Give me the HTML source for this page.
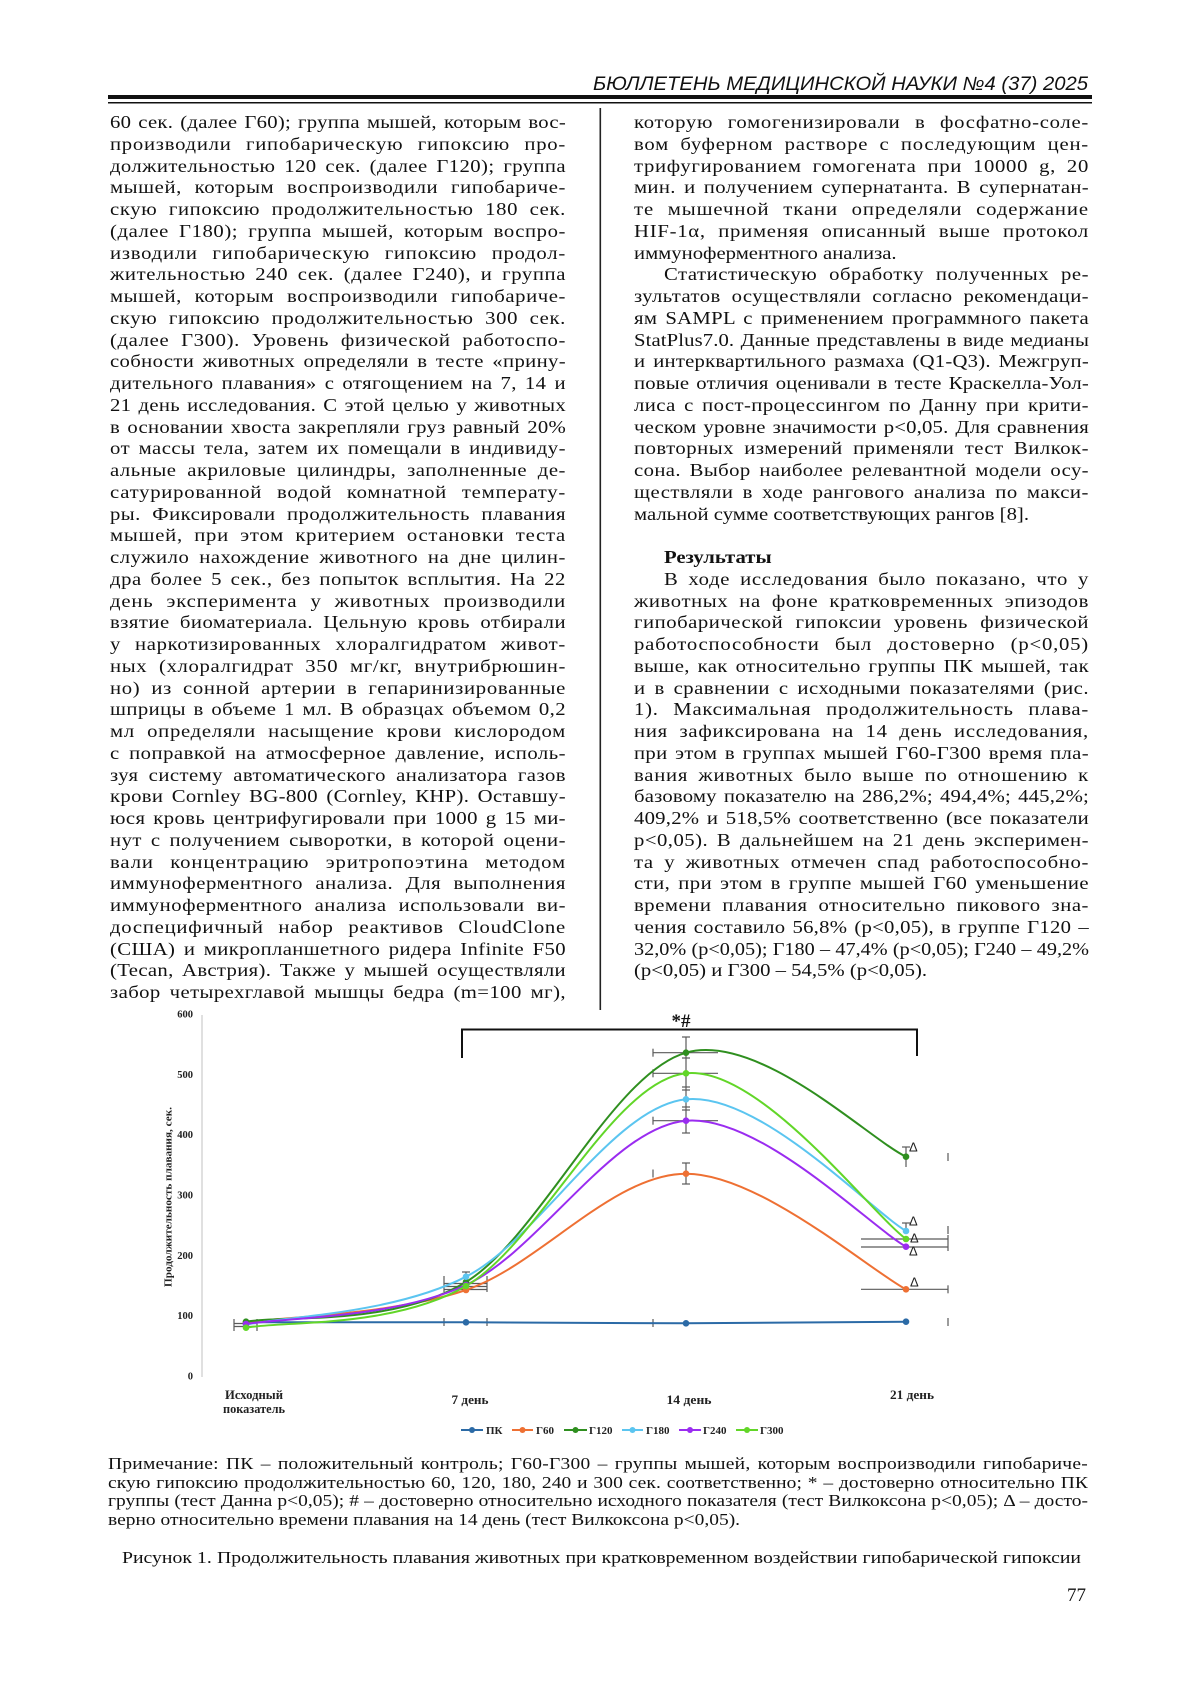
<!DOCTYPE html>
<html lang="ru">
<head>
<meta charset="utf-8">
<style>
  html,body{margin:0;padding:0;background:#fff;}
  #page{position:relative;width:1200px;height:1697px;overflow:hidden;background:#fff;color:#111;}
  .col{position:absolute;top:112px;font-family:"Liberation Serif","DejaVu Serif",serif;font-size:18px;line-height:21.75px;transform:scaleX(1.07);transform-origin:0 0;}
  .col div{height:21.75px;text-align:justify;text-align-last:justify;}
  .col div.l{text-align:left;text-align-last:left;}
  .col div.i{padding-left:28px;}
  .col div.b{font-weight:bold;}
  #left{left:110px;width:426px;}
  #right{left:634px;width:425px;}
  #cap{position:absolute;left:108px;top:1455px;width:916px;font-family:"Liberation Serif",serif;font-size:16.5px;line-height:18.7px;transform:scaleX(1.07);transform-origin:0 0;}
  #cap div{height:18.7px;text-align:justify;text-align-last:justify;}
  #cap div.l{text-align:left;text-align-last:left;}
  #title{position:absolute;left:122px;top:1548px;width:896px;font-family:"Liberation Serif",serif;font-size:17px;line-height:20px;transform:scaleX(1.07);transform-origin:0 0;}
  #title div{height:20px;text-align:justify;text-align-last:justify;}
  #pnum{position:absolute;left:1000px;width:86px;top:1585px;font-family:"Liberation Serif",serif;font-size:19px;line-height:22px;text-align:right;}
  svg{position:absolute;left:0;top:0;}
</style>
</head>
<body>
<div id="page">

<svg width="1200" height="1697" viewBox="0 0 1200 1697" xmlns="http://www.w3.org/2000/svg">
  <!-- header -->
  <text x="593" y="90" textLength="495" lengthAdjust="spacingAndGlyphs" font-family="Liberation Sans, sans-serif" font-style="italic" font-size="19" fill="#111">БЮЛЛЕТЕНЬ МЕДИЦИНСКОЙ НАУКИ №4 (37) 2025</text>
  <rect x="108" y="95" width="984" height="4" fill="#111"/>
  <rect x="108" y="102" width="984" height="1.5" fill="#111"/>
  <!-- column divider -->
  <rect x="599.5" y="108" width="1.6" height="902" fill="#222"/>

  <!-- chart: y axis -->
  <line x1="202" y1="1015" x2="202" y2="1377" stroke="#d6d6d6" stroke-width="1.5"/>
  <g font-family="Liberation Serif, serif" font-weight="bold" font-size="10.5" fill="#222" text-anchor="end">
    <text x="193" y="1017.5">600</text>
    <text x="193" y="1077.8">500</text>
    <text x="193" y="1138.2">400</text>
    <text x="193" y="1198.5">300</text>
    <text x="193" y="1258.8">200</text>
    <text x="193" y="1319.2">100</text>
    <text x="193" y="1379.5">0</text>
  </g>
  <text transform="translate(171.5,1197) rotate(-90)" x="0" y="0" text-anchor="middle" textLength="180" lengthAdjust="spacingAndGlyphs" font-family="Liberation Serif, serif" font-weight="bold" font-size="11" fill="#222">Продолжительность плавания, сек.</text>

  <!-- x category labels -->
  <g font-family="Liberation Serif, serif" font-weight="bold" font-size="12.5" fill="#222" text-anchor="middle">
    <text x="254" y="1399" textLength="58" lengthAdjust="spacingAndGlyphs">Исходный</text>
    <text x="254" y="1413" textLength="62" lengthAdjust="spacingAndGlyphs">показатель</text>
    <text x="470" y="1404" textLength="37" lengthAdjust="spacingAndGlyphs">7 день</text>
    <text x="689" y="1404" textLength="45" lengthAdjust="spacingAndGlyphs">14 день</text>
    <text x="912" y="1399" textLength="44" lengthAdjust="spacingAndGlyphs">21 день</text>
  </g>

  <!-- bracket and significance -->
  <path d="M462,1058 L462,1029.5 L917,1029.5 L917,1056" fill="none" stroke="#111" stroke-width="2"/>
  <text x="681" y="1027" text-anchor="middle" font-family="Liberation Serif, serif" font-weight="bold" font-size="19" fill="#111">*#</text>

  <!-- error bars -->
  <g stroke="#5a5a5a" stroke-width="1.2" fill="none">
    <line x1="234" y1="1323.5" x2="257" y2="1323.5"/>
    <line x1="234" y1="1326.5" x2="257" y2="1326.5"/>
    <line x1="234" y1="1319" x2="234" y2="1331"/>
    <line x1="257" y1="1319" x2="257" y2="1331"/>
    <line x1="444" y1="1283.5" x2="487" y2="1283.5"/>
    <line x1="444" y1="1286.5" x2="487" y2="1286.5"/>
    <line x1="444" y1="1289.5" x2="487" y2="1289.5"/>
    <line x1="444" y1="1276" x2="444" y2="1292"/>
    <line x1="487" y1="1276" x2="487" y2="1292"/>
    <line x1="466" y1="1272" x2="466" y2="1292"/>
    <line x1="462" y1="1272" x2="470" y2="1272"/>
    <line x1="444" y1="1318" x2="444" y2="1326"/>
    <line x1="487" y1="1318" x2="487" y2="1326"/>
    <line x1="686" y1="1037" x2="686" y2="1133"/>
    <line x1="682" y1="1037" x2="690" y2="1037"/>
    <line x1="682" y1="1058" x2="690" y2="1058"/>
    <line x1="682" y1="1087" x2="690" y2="1087"/>
    <line x1="682" y1="1090" x2="690" y2="1090"/>
    <line x1="682" y1="1107" x2="690" y2="1107"/>
    <line x1="682" y1="1110" x2="690" y2="1110"/>
    <line x1="682" y1="1133" x2="690" y2="1133"/>
    <line x1="653" y1="1052.7" x2="718" y2="1052.7"/>
    <line x1="653" y1="1073.3" x2="718" y2="1073.3"/>
    <line x1="653" y1="1120.7" x2="718" y2="1120.7"/>
    <line x1="653" y1="1048.7" x2="653" y2="1056.7"/>
    <line x1="653" y1="1069.3" x2="653" y2="1077.3"/>
    <line x1="653" y1="1116.7" x2="653" y2="1124.7"/>
    <line x1="686" y1="1163" x2="686" y2="1184"/>
    <line x1="682" y1="1163" x2="690" y2="1163"/>
    <line x1="682" y1="1184" x2="690" y2="1184"/>
    <line x1="653" y1="1169.5" x2="653" y2="1177.5"/>
    <line x1="653" y1="1319" x2="653" y2="1327"/>
    <line x1="906" y1="1147" x2="906" y2="1167"/>
    <line x1="902" y1="1147" x2="910" y2="1147"/>
    <line x1="906" y1="1223" x2="906" y2="1233"/>
    <line x1="902" y1="1223" x2="910" y2="1223"/>
    <line x1="861" y1="1239" x2="948" y2="1239"/>
    <line x1="861" y1="1247" x2="948" y2="1247"/>
    <line x1="861" y1="1289.3" x2="948" y2="1289.3"/>
    <line x1="948" y1="1153" x2="948" y2="1161"/>
    <line x1="948" y1="1226" x2="948" y2="1234"/>
    <line x1="948" y1="1235" x2="948" y2="1243"/>
    <line x1="948" y1="1243" x2="948" y2="1251"/>
    <line x1="948" y1="1285.3" x2="948" y2="1293.3"/>
    <line x1="948" y1="1318" x2="948" y2="1326"/>
  </g>

  <!-- series -->
  <g fill="none" stroke-width="2" stroke-linecap="round" stroke-linejoin="round">
    <path stroke="#2b6aa6" d="M246,1322.3 L466,1322.3 L686,1323.3 L906,1321.7"/>
    <path stroke="#ee7033" d="M246,1322.3 C282.67,1316.9 392.67,1314.8 466,1290 C539.33,1265.2 612.67,1173.8 686,1173.7 C759.33,1173.6 869.33,1270 906,1289.3"/>
    <path stroke="#2f8f1f" d="M246,1321.7 C282.67,1315.1 392.67,1326.8 466,1282 C539.33,1237.2 612.67,1073.6 686,1052.7 C759.33,1031.8 869.33,1139.4 906,1156.7"/>
    <path stroke="#5bc5f0" d="M246,1324.7 C282.67,1316.7 392.67,1314.3 466,1276.7 C539.33,1239.1 612.67,1106.9 686,1099.3 C759.33,1091.7 869.33,1209.1 906,1231"/>
    <path stroke="#9a2cf0" d="M246,1324 C282.67,1317.5 392.67,1318.9 466,1285 C539.33,1251.1 612.67,1127.1 686,1120.7 C759.33,1114.3 869.33,1225.7 906,1246.7"/>
    <path stroke="#62d628" d="M246,1327.7 C282.67,1320.75 392.67,1328.4 466,1286 C539.33,1243.6 612.67,1081.1 686,1073.3 C759.33,1065.5 869.33,1211.4 906,1239"/>
  </g>
  <g>
    <g fill="#2b6aa6"><circle cx="246" cy="1322.3" r="3.3"/><circle cx="466" cy="1322.3" r="3.3"/><circle cx="686" cy="1323.3" r="3.3"/><circle cx="906" cy="1321.7" r="3.3"/></g>
    <g fill="#ee7033"><circle cx="246" cy="1322.3" r="3.3"/><circle cx="466" cy="1290" r="3.3"/><circle cx="686" cy="1173.7" r="3.3"/><circle cx="906" cy="1289.3" r="3.3"/></g>
    <g fill="#2f8f1f"><circle cx="246" cy="1321.7" r="3.3"/><circle cx="466" cy="1282" r="3.3"/><circle cx="686" cy="1052.7" r="3.3"/><circle cx="906" cy="1156.7" r="3.3"/></g>
    <g fill="#5bc5f0"><circle cx="246" cy="1324.7" r="3.3"/><circle cx="466" cy="1276.7" r="3.3"/><circle cx="686" cy="1099.3" r="3.3"/><circle cx="906" cy="1231" r="3.3"/></g>
    <g fill="#9a2cf0"><circle cx="246" cy="1324" r="3.3"/><circle cx="466" cy="1285" r="3.3"/><circle cx="686" cy="1120.7" r="3.3"/><circle cx="906" cy="1246.7" r="3.3"/></g>
    <g fill="#62d628"><circle cx="246" cy="1327.7" r="3.3"/><circle cx="466" cy="1286" r="3.3"/><circle cx="686" cy="1073.3" r="3.3"/><circle cx="906" cy="1239" r="3.3"/></g>
  </g>

  <g font-family="Liberation Sans, sans-serif" font-size="13" fill="#222">
    <text x="909" y="1151.5">Δ</text>
    <text x="909" y="1225.5">Δ</text>
    <text x="910" y="1242.5">Δ</text>
    <text x="909" y="1255.5">Δ</text>
    <text x="910" y="1286.5">Δ</text>
  </g>

  <!-- legend -->
  <g stroke-width="2">
    <line x1="461" y1="1430" x2="483" y2="1430" stroke="#2b6aa6"/>
    <line x1="512" y1="1430" x2="533" y2="1430" stroke="#ee7033"/>
    <line x1="564" y1="1430" x2="587" y2="1430" stroke="#2f8f1f"/>
    <line x1="622" y1="1430" x2="643" y2="1430" stroke="#5bc5f0"/>
    <line x1="679" y1="1430" x2="701" y2="1430" stroke="#9a2cf0"/>
    <line x1="736" y1="1430" x2="758" y2="1430" stroke="#62d628"/>
  </g>
  <circle cx="472" cy="1430" r="3" fill="#2b6aa6"/>
  <circle cx="522.5" cy="1430" r="3" fill="#ee7033"/>
  <circle cx="575.5" cy="1430" r="3" fill="#2f8f1f"/>
  <circle cx="632.5" cy="1430" r="3" fill="#5bc5f0"/>
  <circle cx="690" cy="1430" r="3" fill="#9a2cf0"/>
  <circle cx="747" cy="1430" r="3" fill="#62d628"/>
  <g font-family="Liberation Serif, serif" font-weight="bold" font-size="11" fill="#222">
    <text x="486" y="1434">ПК</text>
    <text x="536" y="1434">Г60</text>
    <text x="589" y="1434">Г120</text>
    <text x="646" y="1434">Г180</text>
    <text x="703" y="1434">Г240</text>
    <text x="760" y="1434">Г300</text>
  </g>
</svg>

<div class="col" id="left">
<div>60 сек. (далее Г60); группа мышей, которым вос-</div>
<div>производили гипобарическую гипоксию про-</div>
<div>должительностью 120 сек. (далее Г120); группа</div>
<div>мышей, которым воспроизводили гипобариче-</div>
<div>скую гипоксию продолжительностью 180 сек.</div>
<div>(далее Г180); группа мышей, которым воспро-</div>
<div>изводили гипобарическую гипоксию продол-</div>
<div>жительностью 240 сек. (далее Г240), и группа</div>
<div>мышей, которым воспроизводили гипобариче-</div>
<div>скую гипоксию продолжительностью 300 сек.</div>
<div>(далее Г300). Уровень физической работоспо-</div>
<div>собности животных определяли в тесте «прину-</div>
<div>дительного плавания» с отягощением на 7, 14 и</div>
<div>21 день исследования. С этой целью у животных</div>
<div>в основании хвоста закрепляли груз равный 20%</div>
<div>от массы тела, затем их помещали в индивиду-</div>
<div>альные акриловые цилиндры, заполненные де-</div>
<div>сатурированной водой комнатной температу-</div>
<div>ры. Фиксировали продолжительность плавания</div>
<div>мышей, при этом критерием остановки теста</div>
<div>служило нахождение животного на дне цилин-</div>
<div>дра более 5 сек., без попыток всплытия. На 22</div>
<div>день эксперимента у животных производили</div>
<div>взятие биоматериала. Цельную кровь отбирали</div>
<div>у наркотизированных хлоралгидратом живот-</div>
<div>ных (хлоралгидрат 350 мг/кг, внутрибрюшин-</div>
<div>но) из сонной артерии в гепаринизированные</div>
<div>шприцы в объеме 1 мл. В образцах объемом 0,2</div>
<div>мл определяли насыщение крови кислородом</div>
<div>с поправкой на атмосферное давление, исполь-</div>
<div>зуя систему автоматического анализатора газов</div>
<div>крови Cornley BG-800 (Cornley, КНР). Оставшу-</div>
<div>юся кровь центрифугировали при 1000 g 15 ми-</div>
<div>нут с получением сыворотки, в которой оцени-</div>
<div>вали концентрацию эритропоэтина методом</div>
<div>иммуноферментного анализа. Для выполнения</div>
<div>иммуноферментного анализа использовали ви-</div>
<div>доспецифичный набор реактивов CloudClone</div>
<div>(США) и микропланшетного ридера Infinite F50</div>
<div>(Tecan, Австрия). Также у мышей осуществляли</div>
<div>забор четырехглавой мышцы бедра (m=100 мг),</div>
</div>

<div class="col" id="right">
<div>которую гомогенизировали в фосфатно-соле-</div>
<div>вом буферном растворе с последующим цен-</div>
<div>трифугированием гомогената при 10000 g, 20</div>
<div>мин. и получением супернатанта. В супернатан-</div>
<div>те мышечной ткани определяли содержание</div>
<div>HIF-1α, применяя описанный выше протокол</div>
<div class="l">иммуноферментного анализа.</div>
<div class="i">Статистическую обработку полученных ре-</div>
<div>зультатов осуществляли согласно рекомендаци-</div>
<div>ям SAMPL с применением программного пакета</div>
<div>StatPlus7.0. Данные представлены в виде медианы</div>
<div>и интерквартильного размаха (Q1-Q3). Межгруп-</div>
<div>повые отличия оценивали в тесте Краскелла-Уол-</div>
<div>лиса с пост-процессингом по Данну при крити-</div>
<div>ческом уровне значимости p&lt;0,05. Для сравнения</div>
<div>повторных измерений применяли тест Вилкок-</div>
<div>сона. Выбор наиболее релевантной модели осу-</div>
<div>ществляли в ходе рангового анализа по макси-</div>
<div class="l">мальной сумме соответствующих рангов [8].</div>
<div class="l"></div>
<div class="l i b">Результаты</div>
<div class="i">В ходе исследования было показано, что у</div>
<div>животных на фоне кратковременных эпизодов</div>
<div>гипобарической гипоксии уровень физической</div>
<div>работоспособности был достоверно (p&lt;0,05)</div>
<div>выше, как относительно группы ПК мышей, так</div>
<div>и в сравнении с исходными показателями (рис.</div>
<div>1). Максимальная продолжительность плава-</div>
<div>ния зафиксирована на 14 день исследования,</div>
<div>при этом в группах мышей Г60-Г300 время пла-</div>
<div>вания животных было выше по отношению к</div>
<div>базовому показателю на 286,2%; 494,4%; 445,2%;</div>
<div>409,2% и 518,5% соответственно (все показатели</div>
<div>p&lt;0,05). В дальнейшем на 21 день эксперимен-</div>
<div>та у животных отмечен спад работоспособно-</div>
<div>сти, при этом в группе мышей Г60 уменьшение</div>
<div>времени плавания относительно пикового зна-</div>
<div>чения составило 56,8% (p&lt;0,05), в группе Г120 –</div>
<div>32,0% (p&lt;0,05); Г180 – 47,4% (p&lt;0,05); Г240 – 49,2%</div>
<div class="l">(p&lt;0,05) и Г300 – 54,5% (p&lt;0,05).</div>
</div>

<div id="cap">
<div>Примечание: ПК – положительный контроль; Г60-Г300 – группы мышей, которым воспроизводили гипобариче-</div>
<div>скую гипоксию продолжительностью 60, 120, 180, 240 и 300 сек. соответственно; * – достоверно относительно ПК</div>
<div>группы (тест Данна p&lt;0,05); # – достоверно относительно исходного показателя (тест Вилкоксона p&lt;0,05); Δ – досто-</div>
<div class="l">верно относительно времени плавания на 14 день (тест Вилкоксона p&lt;0,05).</div>
</div>

<div id="title"><div>Рисунок 1. Продолжительность плавания животных при кратковременном воздействии гипобарической гипоксии</div></div>

<div id="pnum">77</div>

</div>
<script>
(function(){
  function fit(container, W, maxS, indent){
    if(!container) return;
    container.style.transform='none';
    container.style.width=W+'px';
    var ds=container.children;
    for(var i=0;i<ds.length;i++){
      var d=ds[i];
      var txt=d.textContent;
      if(!txt.replace(/\s/g,'')) continue;
      var pad=d.classList.contains('i')?indent:0;
      var isLeft=d.classList.contains('l');
      d.style.paddingLeft='0px';
      d.style.display='inline-block';
      d.style.whiteSpace='nowrap';
      d.style.width='auto';
      d.style.textAlignLast='left';
      d.style.letterSpacing='0px';
      var nat=d.getBoundingClientRect().width;
      var avail=W-pad;
      var s=Math.min(maxS, avail/(nat+1.5));
      var ls=0;
      if(!isLeft){
        var n=txt.length;
        ls=Math.max(0,Math.min(1.2, 0.55*(avail/s-nat-1.5)/n));
      }
      d.style.display='block';
      d.style.whiteSpace='normal';
      d.style.textAlignLast='';
      d.style.letterSpacing=ls+'px';
      d.style.boxSizing='border-box';
      d.style.paddingLeft=(pad/s)+'px';
      d.style.width=(W/s)+'px';
      d.style.transformOrigin='0 0';
      d.style.transform='scaleX('+s+')';
    }
  }
  try{
    fit(document.getElementById('left'),456,1.15,30);
    fit(document.getElementById('right'),455,1.15,30);
    fit(document.getElementById('cap'),980,1.18,0);
    fit(document.getElementById('title'),959,1.18,0);
  }catch(e){}
})();
</script>
</body>
</html>
